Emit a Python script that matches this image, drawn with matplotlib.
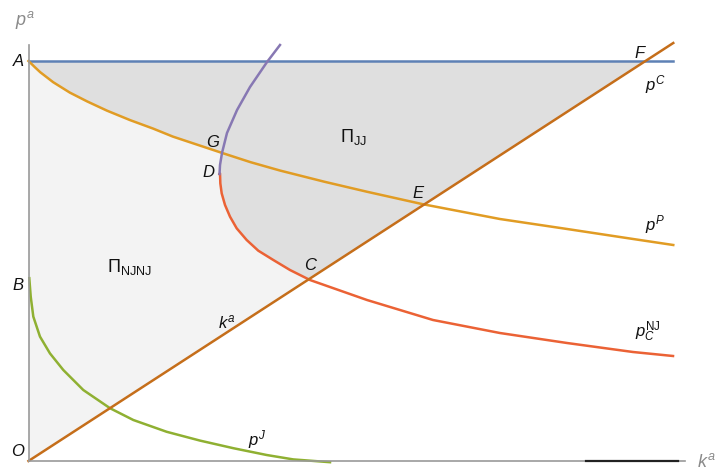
import numpy as np
import matplotlib
matplotlib.use('Agg')
import matplotlib.pyplot as plt

plt.rcParams['font.family'] = ['Liberation Sans', 'DejaVu Sans']
plt.rcParams['mathtext.fontset'] = 'custom'
plt.rcParams['mathtext.rm'] = 'Liberation Sans'
plt.rcParams['mathtext.it'] = 'Liberation Sans:italic'

# price curves p(k), read along k^a
pP_k = [0, 0.010, 0.019, 0.040, 0.067, 0.095, 0.127, 0.165, 0.202, 0.234, 0.273, 0.314,
        0.360, 0.408, 0.480, 0.549, 0.639, 0.764, 0.873, 0.980, 1.045]
pP_p = [1.0, 0.985, 0.972, 0.947, 0.921, 0.899, 0.876, 0.852, 0.831, 0.811, 0.791, 0.770,
        0.747, 0.726, 0.698, 0.673, 0.642, 0.605, 0.580, 0.555, 0.540]

pNJ_k = [0.3096, 0.3104, 0.3109, 0.3131, 0.3185, 0.3266, 0.3374, 0.3536, 0.3724,
         0.3968, 0.4238, 0.4562, 0.5486, 0.6556, 0.764, 0.8728, 0.9797, 1.0446]
pNJ_p = [0.7175, 0.7192, 0.6942, 0.6692, 0.640, 0.6108, 0.5817, 0.5525, 0.5258,
         0.5025, 0.4775, 0.4525, 0.4025, 0.3525, 0.320, 0.295, 0.2725, 0.2625]

pur_k = [0.3096, 0.3104, 0.3136, 0.3217, 0.338, 0.359, 0.3866, 0.4076]
pur_p = [0.7175, 0.74, 0.77, 0.82, 0.8775, 0.935, 0.9975, 1.04]

pJ_k = [0.0013, 0.0036, 0.0078, 0.0186, 0.0348, 0.0564, 0.0888, 0.1321, 0.1699,
        0.224, 0.278, 0.332, 0.386, 0.429, 0.4887]
pJ_p = [0.457, 0.411, 0.361, 0.311, 0.269, 0.2275, 0.1775, 0.132, 0.1025,
        0.073, 0.051, 0.032, 0.015, 0.004, -0.003]

ka_end = 1.045          # k^a = p line runs to here
top_p = 1.0             # upper price bound
top_end = 1.045
floor_k = [0.904, 1.053]  # segment lying on the k axis
floor_p = [0.0, 0.0]

blue = '#5E81B5'
orange = '#E19C24'
green = '#8FB032'
red = '#EB6235'
purple = '#8778B3'
brown = '#C56E1A'


def crossing(xa, ya, xb, yb):
    lo = max(min(xa), min(xb))
    hi = min(max(xa), max(xb))
    grid = np.linspace(lo, hi, 4000)
    d = np.interp(grid, xa, ya) - np.interp(grid, xb, yb)
    i = np.where(np.sign(d[:-1]) != np.sign(d[1:]))[0][0]
    x = grid[i] - d[i] * (grid[i + 1] - grid[i]) / (d[i + 1] - d[i])
    return x, np.interp(x, xa, ya)


line_k = [0, ka_end]
line_p = [0, ka_end]
kC, pC = crossing(pNJ_k, pNJ_p, line_k, line_p)
kG, pG = crossing(pur_k, pur_p, pP_k, pP_p)
kF = top_p

pNJ_k, pNJ_p = np.array(pNJ_k), np.array(pNJ_p)
pur_k, pur_p = np.array(pur_k), np.array(pur_p)
pP_k, pP_p = np.array(pP_k), np.array(pP_p)

# shared boundary C -> D -> G -> A
m = pNJ_k < kC
bk = [kC] + list(pNJ_k[m][::-1])
bp = [pC] + list(pNJ_p[m][::-1])
m = pur_k < kG
bk += list(pur_k[m][1:]) + [kG]
bp += list(pur_p[m][1:]) + [pG]
m = pP_k < kG
bk += list(pP_k[m][::-1])
bp += list(pP_p[m][::-1])

fig = plt.figure(figsize=(7.2, 4.73), dpi=100)
ax = fig.add_axes([28.5 / 720, 12 / 473, 1.1 * 617 / 720, 1.06 * 400 / 473])
ax.set_xlim(0, 1.1)
ax.set_ylim(0, 1.06)

ax.fill([0] + bk, [0] + bp, color='#F3F3F3', lw=0, zorder=0)
ax.fill([0, kF] + bk, [top_p, top_p] + bp, color='#DFDFDF', lw=0, zorder=0)

lw = 1.8
ax.plot([0, top_end], [top_p, top_p], color=blue, lw=lw, clip_on=False)
ax.plot(pP_k, pP_p, color=orange, lw=lw, clip_on=False)
ax.plot(pJ_k, pJ_p, color=green, lw=lw, clip_on=False)
ax.plot(pNJ_k, pNJ_p, color=red, lw=lw, clip_on=False)
ax.plot(pur_k, pur_p, color=purple, lw=lw, clip_on=False)
ax.plot(line_k, line_p, color=brown, lw=lw, clip_on=False)
ax.plot(floor_k, floor_p, color='#222222', lw=1.6, clip_on=False, zorder=3)

for s in ['top', 'right']:
    ax.spines[s].set_visible(False)
for s in ['left', 'bottom']:
    ax.spines[s].set_color('#999999')
    ax.spines[s].set_linewidth(1.2)
ax.spines['left'].set_bounds(0, 1.04)
ax.spines['bottom'].set_bounds(0, 1.064)
ax.set_xticks([])
ax.set_yticks([])
ax.patch.set_visible(False)

fs = 12
kw = dict(fontsize=fs, color='#111111', ha='center', va='center', style='italic')
ax.text(-0.017, 1.0, 'A', **kw)
ax.text(-0.017, 0.44, 'B', **kw)
ax.text(-0.017, 0.025, 'O', **kw)
ax.text(0.299, 0.7975, 'G', **kw)
ax.text(0.291, 0.7225, 'D', **kw)
ax.text(0.456, 0.49, 'C', **kw)
ax.text(0.631, 0.67, 'E', **kw)
ax.text(0.991, 1.02, 'F', **kw)

kw = dict(fontsize=fs, color='#111111', ha='center', va='center')
ax.text(1.0154, 0.94, r'$p^{C}$', **kw)
ax.text(1.0154, 0.59, r'$p^{P}$', **kw)
ax.text(1.004, 0.3225, r'$p_{C}^{\rm NJ}$', **kw)
ax.text(0.3217, 0.3475, r'$k^{a}$', **kw)
ax.text(0.37, 0.0525, r'$p^{J}$', **kw)
ax.text(0.526, 0.81, r'$\Pi_{\rm JJ}$', fontsize=13, color='#111111', ha='center', va='center')
ax.text(0.1645, 0.485, r'$\Pi_{\rm NJNJ}$', fontsize=13, color='#111111', ha='center', va='center')

kw = dict(fontsize=13, color='#8A8A8A', ha='center', va='center')
ax.text(-0.0057, 1.1025, r'$p^{a}$', **kw)
ax.text(1.099, -0.0025, r'$k^{a}$', **kw)

fig.savefig('out.png', dpi=100)
